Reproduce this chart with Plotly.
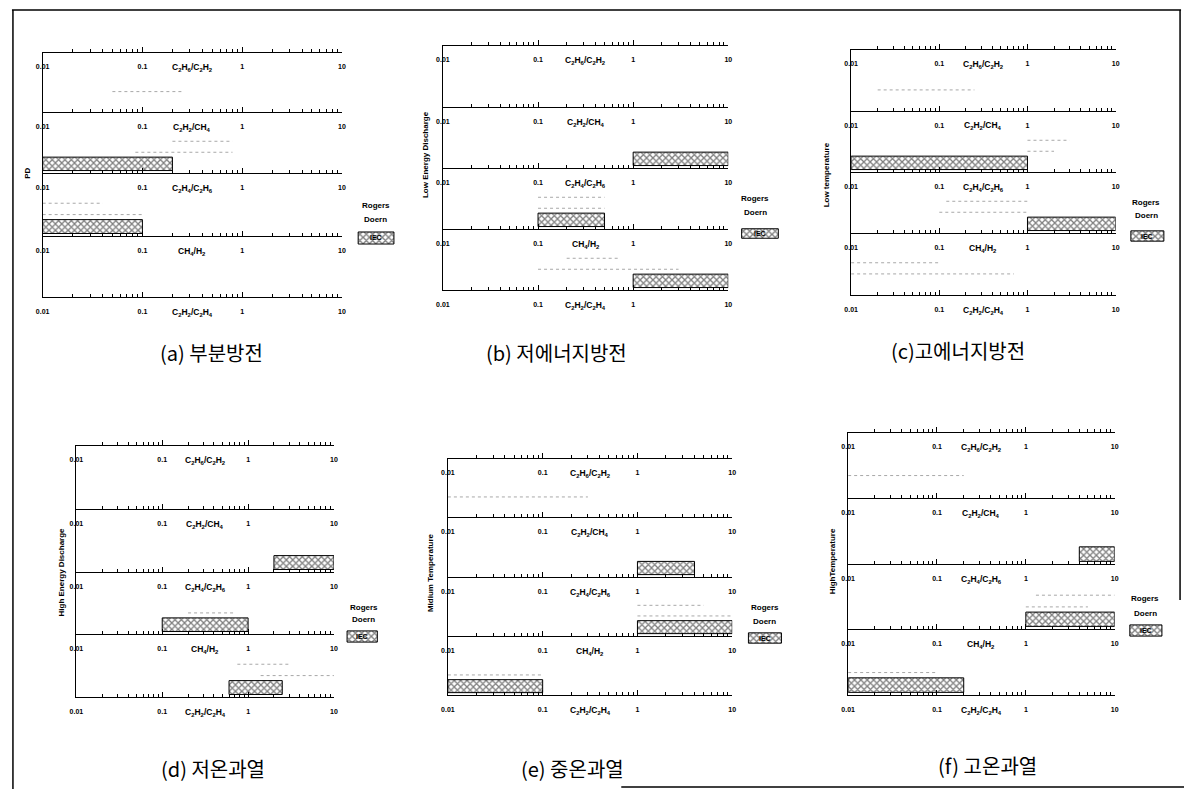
import plotly.graph_objects as go

# ---------------- data ----------------
ratio_titles = [
    "C<sub>2</sub>H<sub>6</sub>/C<sub>2</sub>H<sub>2</sub>",
    "C<sub>2</sub>H<sub>2</sub>/CH<sub>4</sub>",
    "C<sub>2</sub>H<sub>4</sub>/C<sub>2</sub>H<sub>6</sub>",
    "CH<sub>4</sub>/H<sub>2</sub>",
    "C<sub>2</sub>H<sub>2</sub>/C<sub>2</sub>H<sub>4</sub>",
]
tick_values = [0.01, 0.1, 1, 10]
tick_labels = ["0.01", "0.1", "1", "10"]
minor_values = [m * d for d in (0.01, 0.1, 1) for m in range(2, 10)]

fault_names = ["PD", "Low Energy Discharge", "Low temperature",
               "High Energy Discharge", "Midium Temperature", "HighTemperature"]
captions = ["(a) 부분방전", "(b) 저에너지방전", "(c)고에너지방전",
            "(d) 저온과열", "(e) 중온과열", "(f) 고온과열"]
legend_names = ["Rogers", "Doern", "IEC"]

# (axis index, low, high): range drawn just above the axis of that ratio
iec_a = [(2, 0.01, 0.2), (3, 0.01, 0.1)]
iec_b = [(2, 1, 10), (3, 0.1, 0.5), (4, 1, 10)]
iec_c = [(2, 0.01, 1), (3, 1, 10)]
iec_d = [(2, 2, 10), (3, 0.1, 1), (4, 0.6, 2.5)]
iec_e = [(2, 1, 4), (3, 1, 10), (4, 0.01, 0.1)]
iec_f = [(2, 4, 10), (3, 1, 10), (4, 0.01, 0.2)]

rogers_a = [(2, 0.2, 0.8), (3, 0.01, 0.04)]
rogers_b = [(3, 0.1, 0.5), (4, 0.2, 0.7)]
rogers_c = [(2, 1, 3), (3, 0.12, 1), (4, 0.01, 0.1)]
rogers_d = [(4, 0.75, 3)]
rogers_e = [(3, 1, 5)]
rogers_f = [(3, 1.3, 10)]

doern_a = [(1, 0.05, 0.25), (2, 0.085, 0.8), (3, 0.01, 0.1)]
doern_b = [(3, 0.1, 0.5), (4, 0.1, 3)]
doern_c = [(1, 0.02, 0.25), (2, 1, 2), (3, 0.1, 1), (4, 0.01, 0.7)]
doern_d = [(3, 0.2, 0.7), (4, 1.4, 10)]
doern_e = [(1, 0.01, 0.3), (3, 1, 10), (4, 0.01, 0.1)]
doern_f = [(1, 0.01, 0.2), (3, 1, 5), (4, 0.01, 0.1)]

iec_sets = [iec_a, iec_b, iec_c, iec_d, iec_e, iec_f]
rogers_sets = [rogers_a, rogers_b, rogers_c, rogers_d, rogers_e, rogers_f]
doern_sets = [doern_a, doern_b, doern_c, doern_d, doern_e, doern_f]

# ---------------- layout geometry (pixels) ----------------
W, H = 1190, 789
geom = [
    (36, 338, [52, 112, 173, 236, 297]),
    (440, 728, [45, 107, 168, 229, 290]),
    (852, 1119, [49, 111, 172, 233, 295]),
    (70, 330, [445, 509, 572, 634, 697]),
    (445, 732, [458, 517, 577, 636, 695]),
    (849, 1118, [432, 498, 564, 629, 695]),
]
ytitle_pos = [(20, 173), (423, 155), (828, 175), (55, 572), (427, 573), (833, 561)]
legend_text_pos = [(372, 206, 219), (755, 199, 213), (1150, 202, 215),
                   (360, 607, 619), (765, 607, 621), (1149, 598, 613)]
legend_box = [(353, 392, 231, 245), (740, 780, 228, 239), (1133, 1169, 230, 242),
              (342, 375, 630, 643), (747, 783, 632, 644), (1132, 1167, 624, 637)]
caption_pos = [(206, 352), (555, 352), (960, 350), (208, 768), (571, 768), (990, 765)]

ROG_LEVEL, DOERN_LEVEL, BAR_Y, BAR_W = 0.52, 0.34, 0.15, 0.22


def px(x):
    return x / W


def py(y):
    return 1 - y / H


fig = go.Figure()
layout = {}
annotations = []
hatch = dict(shape="x", fgcolor="black", bgcolor="white", size=4.5, solidity=0.5)
tick_font = dict(family="Liberation Sans, Arial", size=7, color="black", weight="bold")
title_font = dict(family="Liberation Sans, Arial", size=8.5, color="black", weight="bold")
legend_font = dict(family="Liberation Sans, Arial", size=8, color="black", weight="bold")
dot_line = dict(color="#a8a8a8", width=1, dash="dot")

n = 0
for p in range(6):
    xl, xr, lines = geom[p]
    axis_ids = {}
    for k in range(5):
        n += 1
        sfx = "" if n == 1 else str(n)
        xa, ya = "x" + sfx, "y" + sfx
        axis_ids[k] = (xa, ya)
        if k == 0:
            dom_y = [py(lines[0]), py(lines[0] - 3)]
        else:
            dom_y = [py(lines[k]), py(lines[k - 1])]
        layout["xaxis" + sfx] = dict(
            type="log", range=[-2, 1], domain=[px(xl), px(xr)], anchor=ya,
            showline=True, linecolor="black", linewidth=1.4,
            ticks="inside", ticklen=5, tickwidth=1, tickcolor="black",
            tickvals=tick_values, ticktext=tick_labels, tickfont=tick_font,
            ticklabelstandoff=7,
            minor=dict(ticks="inside", ticklen=3, tickwidth=1, tickcolor="black",
                       tickvals=minor_values, showgrid=False),
            showgrid=False, zeroline=False, fixedrange=True,
        )
        layout["yaxis" + sfx] = dict(
            range=[0, 1], domain=dom_y, anchor=xa,
            showline=(k > 0), linecolor="black", linewidth=1.4,
            showticklabels=False, ticks="", showgrid=False, zeroline=False,
            fixedrange=True,
        )
        # empty trace so that the strip's axes are always drawn
        fig.add_trace(go.Scatter(x=[], y=[], xaxis=xa, yaxis=ya, showlegend=False,
                                 hoverinfo="skip"))
        annotations.append(dict(
            text=ratio_titles[k], x=0.5, y=0, xref=xa + " domain", yref=ya + " domain",
            yshift=-15, showarrow=False, font=title_font, xanchor="center", yanchor="middle",
        ))

    for (k, lo, hi) in rogers_sets[p]:
        xa, ya = axis_ids[k]
        fig.add_trace(go.Scatter(x=[lo, hi], y=[ROG_LEVEL, ROG_LEVEL], mode="lines",
                                 line=dot_line, xaxis=xa, yaxis=ya,
                                 showlegend=False, hoverinfo="skip"))
    for (k, lo, hi) in doern_sets[p]:
        xa, ya = axis_ids[k]
        fig.add_trace(go.Scatter(x=[lo, hi], y=[DOERN_LEVEL, DOERN_LEVEL], mode="lines",
                                 line=dot_line, xaxis=xa, yaxis=ya,
                                 showlegend=False, hoverinfo="skip"))
    for (k, lo, hi) in iec_sets[p]:
        xa, ya = axis_ids[k]
        fig.add_trace(go.Bar(y=[BAR_Y], x=[hi - lo], base=[lo], orientation="h", width=BAR_W,
                             marker=dict(color="white", pattern=hatch,
                                         line=dict(color="black", width=1)),
                             xaxis=xa, yaxis=ya, showlegend=False, hoverinfo="skip"))

    # legend swatch for IEC
    n += 1
    sfx = str(n)
    bl, br, bt, bb = legend_box[p]
    layout["xaxis" + sfx] = dict(domain=[px(bl), px(br)], range=[-0.04, 1.04], visible=False,
                                 anchor="y" + sfx, fixedrange=True)
    layout["yaxis" + sfx] = dict(domain=[py(bb), py(bt)], range=[-0.08, 1.08], visible=False,
                                 anchor="x" + sfx, fixedrange=True)
    fig.add_trace(go.Bar(y=[0.5], x=[1], base=[0], orientation="h", width=1,
                         marker=dict(color="white", pattern=hatch,
                                     line=dict(color="black", width=1)),
                         xaxis="x" + sfx, yaxis="y" + sfx, showlegend=False, hoverinfo="skip"))
    annotations.append(dict(text=legend_names[2], x=0.5, y=0.5, xref="x" + sfx + " domain",
                            yref="y" + sfx + " domain", showarrow=False, font=tick_font,
                            xanchor="center", yanchor="middle"))
    lx, ry, dy = legend_text_pos[p]
    annotations.append(dict(text=legend_names[0], x=px(lx), y=py(ry), xref="paper", yref="paper",
                            showarrow=False, font=legend_font, xanchor="center", yanchor="middle"))
    annotations.append(dict(text=legend_names[1], x=px(lx), y=py(dy), xref="paper", yref="paper",
                            showarrow=False, font=legend_font, xanchor="center", yanchor="middle"))

    tx, ty = ytitle_pos[p]
    annotations.append(dict(text=fault_names[p], x=px(tx), y=py(ty), xref="paper", yref="paper",
                            textangle=-90, showarrow=False, font=legend_font,
                            xanchor="center", yanchor="middle"))
    cx, cy = caption_pos[p]
    annotations.append(dict(text=captions[p], x=px(cx), y=py(cy), xref="paper", yref="paper",
                            showarrow=False, xanchor="center", yanchor="middle",
                            font=dict(family="Noto Sans CJK KR", size=20, color="black")))

frame = dict(color="black", width=1.5)
fig.update_layout(**layout)
fig.update_layout(
    width=W, height=H, margin=dict(l=0, r=0, t=0, b=0),
    paper_bgcolor="white", plot_bgcolor="rgba(0,0,0,0)",
    showlegend=False, barmode="overlay", annotations=annotations,
    shapes=[
        dict(type="line", xref="paper", yref="paper", x0=px(5), x1=px(1185), y0=py(10), y1=py(10), line=frame),
        dict(type="line", xref="paper", yref="paper", x0=px(6), x1=px(6), y0=py(10), y1=py(789), line=frame),
        dict(type="line", xref="paper", yref="paper", x0=px(1184), x1=px(1184), y0=py(10), y1=py(600), line=frame),
        dict(type="line", xref="paper", yref="paper", x0=px(620), x1=px(1188), y0=py(787), y1=py(787), line=frame),
    ],
)
fig.write_html("out.html", config={"displayModeBar": False},
               post_script="document.body.style.margin='0';document.body.style.overflow='hidden';")
